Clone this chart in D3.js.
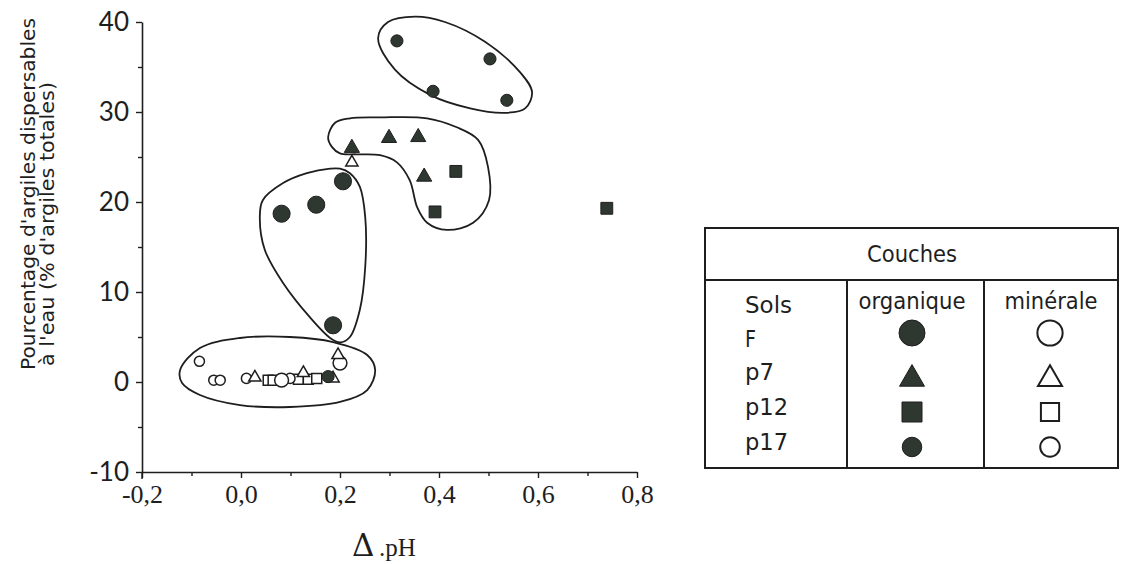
<!DOCTYPE html>
<html><head><meta charset="utf-8">
<script src="https://cdn.jsdelivr.net/npm/d3@7"></script>
<style>body{margin:0;background:#fff}svg{display:block}</style>
</head><body>
<svg id="c" width="1125" height="564"></svg>
<script>
// ---- data (ΔpH, % argiles dispersables) ----
const fOrg   = [[0.082,18.7],[0.152,19.7],[0.206,22.3],[0.186,6.3]];
const fMin   = [[0.082,0.2],[0.200,2.1]];
const p7Org  = [[0.224,26.0],[0.299,27.1],[0.358,27.2],[0.370,22.8]];
const p7Min  = [[0.224,24.4],[0.028,0.5],[0.126,1.0],[0.186,0.4],[0.196,3.0]];
const p12Org = [[0.434,23.4],[0.392,18.9],[0.739,19.3]];
const p12Min = [[0.055,0.2],[0.065,0.2],[0.116,0.3],[0.136,0.3],[0.153,0.4]];
const p17Org = [[0.315,37.9],[0.503,35.9],[0.388,32.3],[0.537,31.3],[0.176,0.6]];
const p17Min = [[-0.084,2.3],[-0.055,0.2],[-0.042,0.2],[0.011,0.4],[0.099,0.4]];

// enclosing outlines (data units)
const groupTop = [[0.277,38.2],[0.297,40.0],[0.352,40.6],[0.412,40.0],[0.493,37.8],[0.564,34.4],[0.588,32.2],[0.574,30.4],[0.533,29.9],[0.463,30.4],[0.382,31.9],[0.311,34.7]];
const groupMid = [[0.176,27.2],[0.190,28.8],[0.220,29.3],[0.281,29.4],[0.376,29.3],[0.436,28.3],[0.479,26.9],[0.499,23.9],[0.501,20.2],[0.469,17.7],[0.416,16.9],[0.376,17.7],[0.356,19.4],[0.341,22.4],[0.315,24.4],[0.281,25.2],[0.234,25.3],[0.200,25.4],[0.184,26.1]];
const groupF = [[0.180,23.7],[0.133,23.2],[0.085,22.1],[0.044,20.2],[0.038,18.3],[0.048,14.7],[0.085,11.0],[0.139,7.2],[0.180,4.9],[0.200,4.4],[0.220,5.0],[0.240,8.0],[0.251,12.8],[0.251,18.3],[0.240,21.7],[0.220,23.2],[0.200,23.7]];
const groupLow = [[-0.123,1.33],[-0.083,3.78],[-0.002,4.89],[0.099,5.0],[0.186,4.44],[0.255,3.0],[0.271,1.33],[0.255,-0.89],[0.200,-2.22],[0.099,-2.78],[-0.002,-2.56],[-0.083,-1.44],[-0.119,-0.11]];

const xMajor = [-0.2,0.0,0.2,0.4,0.6,0.8];
const xMinor = [-0.1,0.1,0.3,0.5,0.7];
const yMajor = [-10,0,10,20,30,40];
const yMinor = [-5,5,15,25,35];
const legendRows = ["F","p7","p12","p17"];
const legendCols = ["organique","minérale"];

const svg = d3.select("#c");
const ink = "#1e1e1e", fillDark = "#2e3831";
const x = d3.scaleLinear().domain([-0.2,0.8]).range([142,637]);
const y = d3.scaleLinear().domain([-10,40]).range([472,22]);

// axes
const gx = svg.append("g").attr("transform",`translate(0,${y(-10)})`)
  .call(d3.axisBottom(x).tickValues(xMajor).tickSize(6).tickSizeOuter(0)
    .tickFormat(d=>d3.format(".1f")(d).replace(".",",").replace("−","-")));
svg.append("g").attr("transform",`translate(0,${y(-10)})`)
  .call(d3.axisBottom(x).tickValues(xMinor).tickSize(4).tickFormat(""))
  .select(".domain").remove();
gx.selectAll("text").attr("font-family","'Liberation Serif','DejaVu Serif',serif")
  .attr("font-size",26).attr("dy","0.85em").attr("fill",ink);
const gy = svg.append("g").attr("transform",`translate(${x(-0.2)},0)`)
  .call(d3.axisLeft(y).tickValues(yMajor).tickSize(6).tickSizeOuter(0)
    .tickFormat(d=>String(d)));
svg.append("g").attr("transform",`translate(${x(-0.2)},0)`)
  .call(d3.axisLeft(y).tickValues(yMinor).tickSize(4).tickFormat(""))
  .select(".domain").remove();
gy.selectAll("text").attr("font-family","Lato,'Open Sans',sans-serif")
  .attr("font-size",26).attr("x",-13).attr("fill",ink);
svg.selectAll(".domain").attr("stroke",ink).attr("stroke-width",1.6);
svg.selectAll(".tick line").attr("stroke",ink).attr("stroke-width",1.4);
gy.append("line").attr("x1",0).attr("x2",0).attr("y1",y(-10)).attr("y2",y(-10)+7).attr("stroke",ink).attr("stroke-width",1.4);

// y title
const yt = svg.append("g").attr("font-family","'DejaVu Sans',sans-serif").attr("font-size",19).attr("fill",ink);
yt.append("text").attr("transform","translate(35,370) rotate(-90)").attr("text-anchor","start")
  .attr("textLength",352).attr("lengthAdjust","spacingAndGlyphs").text("Pourcentage d'argiles dispersables");
yt.append("text").attr("transform","translate(54,366) rotate(-90)").attr("text-anchor","start")
  .attr("textLength",284).attr("lengthAdjust","spacingAndGlyphs").text("à l'eau (% d'argiles totales)");

// x title
svg.append("text").attr("x",352).attr("y",556).attr("font-family","'DejaVu Serif','Liberation Serif',serif")
  .attr("font-size",31).attr("fill",ink).text("Δ");
svg.append("text").attr("x",379).attr("y",556).attr("font-family","'Liberation Serif',serif")
  .attr("font-size",25).attr("fill",ink).text(".pH");

// enclosures
const outline = d3.line().x(d=>x(d[0])).y(d=>y(d[1])).curve(d3.curveCatmullRomClosed.alpha(0.5));
[groupTop,groupMid,groupF,groupLow].forEach(g=>{
  svg.append("path").attr("d",outline(g)).attr("fill","none").attr("stroke",ink).attr("stroke-width",1.8);
});

// markers
const series = [
  {d:p12Min, t:d3.symbolSquare,  s:100, filled:false},
  {d:p17Min, t:d3.symbolCircle,  s:80,  filled:false},
  {d:fMin,   t:d3.symbolCircle,  s:150, filled:false},
  {d:p7Min,  t:d3.symbolTriangle,s:65,  filled:false},
  {d:fOrg,   t:d3.symbolCircle,  s:230, filled:true},
  {d:p7Org,  t:d3.symbolTriangle,s:100, filled:true},
  {d:p12Org, t:d3.symbolSquare,  s:140, filled:true},
  {d:p17Org, t:d3.symbolCircle,  s:115, filled:true},
];
series.forEach(sr=>{
  svg.append("g").selectAll("path").data(sr.d).join("path")
    .attr("transform",d=>`translate(${x(d[0])},${y(d[1])})`)
    .attr("d",d3.symbol().type(sr.t).size(sr.s))
    .attr("fill",sr.filled?fillDark:"#fff")
    .attr("stroke",ink).attr("stroke-width",sr.filled?1:1.5);
});

// legend table
const L = {x0:705,x1:1118,y0:228,y1:468,yh:280,c1:847,c2:984};
const lg = svg.append("g").attr("stroke",ink).attr("stroke-width",2).attr("fill","none");
lg.append("rect").attr("x",L.x0).attr("y",L.y0).attr("width",L.x1-L.x0).attr("height",L.y1-L.y0);
lg.append("line").attr("x1",L.x0).attr("x2",L.x1).attr("y1",L.yh).attr("y2",L.yh);
lg.append("line").attr("x1",L.c1).attr("x2",L.c1).attr("y1",L.yh).attr("y2",L.y1);
lg.append("line").attr("x1",L.c2).attr("x2",L.c2).attr("y1",L.yh).attr("y2",L.y1);
const lt = svg.append("g").attr("font-family","'DejaVu Sans',sans-serif").attr("font-size",23).attr("fill",ink);
lt.append("text").attr("x",912).attr("y",262).attr("text-anchor","middle").attr("textLength",90).attr("lengthAdjust","spacingAndGlyphs").text("Couches");
lt.append("text").attr("x",745).attr("y",313).attr("textLength",47).attr("lengthAdjust","spacingAndGlyphs").text("Sols");
lt.selectAll(".col").data(legendCols).join("text").attr("class","col")
  .attr("x",(d,i)=>i===0?912:1051).attr("y",309).attr("text-anchor","middle")
  .attr("textLength",(d,i)=>i===0?107:93).attr("lengthAdjust","spacingAndGlyphs").text(d=>d);
const rowY = [347,380,415,450];
const rowW = [11,29,43,43];
lt.selectAll(".row").data(legendRows).join("text").attr("class","row")
  .attr("x",745).attr("y",(d,i)=>rowY[i]).attr("textLength",(d,i)=>rowW[i])
  .attr("lengthAdjust","spacingAndGlyphs").text(d=>d);
const symY = [333,377,412,447];
const legSyms = [
  {t:d3.symbolCircle,  so:530, sm:500},
  {t:d3.symbolTriangle,so:270, sm:250},
  {t:d3.symbolSquare,  so:400, sm:330},
  {t:d3.symbolCircle,  so:300, sm:300},
];
legSyms.forEach((s,i)=>{
  svg.append("path").attr("transform",`translate(912,${symY[i]+(i===1?2:0)})`)
    .attr("d",d3.symbol().type(s.t).size(s.so)).attr("fill",fillDark).attr("stroke",ink).attr("stroke-width",1);
  svg.append("path").attr("transform",`translate(1050,${symY[i]+(i===1?2:0)})`)
    .attr("d",d3.symbol().type(s.t).size(s.sm)).attr("fill","#fff").attr("stroke",ink).attr("stroke-width",2);
});
</script>
</body></html>
